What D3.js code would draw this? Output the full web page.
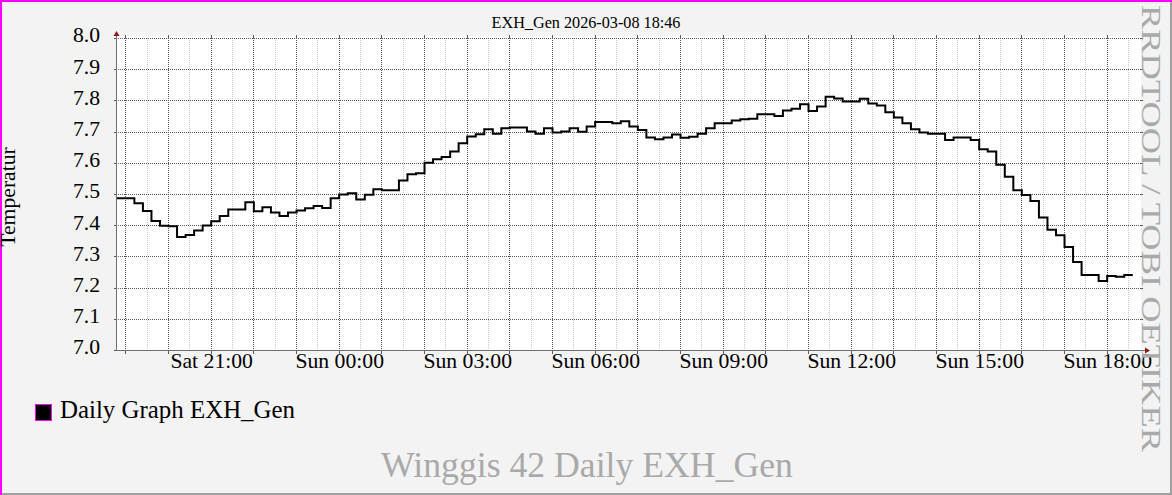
<!DOCTYPE html>
<html>
<head>
<meta charset="utf-8">
<title>EXH_Gen daily</title>
<script src="https://d3js.org/d3.v7.min.js"></script>
<style>
  body { margin: 0; background: #f3f3f3; }
  text { font-family: "Liberation Serif", "DejaVu Serif", serif; }
</style>
</head>
<body>
<script>
// chart texts
var title = "EXH_Gen 2026-03-08 18:46";
var yLabel = "Temperatur";
var legendLabel = "Daily Graph EXH_Gen";
var footer = "Winggis 42 Daily EXH_Gen";
var sideText = "RRDTOOL / TOBI OETIKER";

// time window (UTC so no DST games)
var tStart = Date.UTC(2026, 2, 7, 18, 46);
var tEnd = Date.UTC(2026, 2, 8, 18, 46);
var firstSample = Date.UTC(2026, 2, 7, 18, 36);   // start of first 12 min bucket
var stepMinutes = 12;

var yTicks = [7.0, 7.1, 7.2, 7.3, 7.4, 7.5, 7.6, 7.7, 7.8, 7.9, 8.0];

// one value per 12 minute bucket
var temps = [
  7.488, 7.488, 7.488, 7.472, 7.447, 7.415, 7.400, 7.398, 7.364, 7.370,
  7.385, 7.401, 7.414, 7.431, 7.452, 7.452, 7.475, 7.446, 7.459, 7.442,
  7.431, 7.442, 7.449, 7.456, 7.463, 7.457, 7.488, 7.500, 7.504, 7.484,
  7.499, 7.517, 7.514, 7.514, 7.545, 7.565, 7.568, 7.602, 7.613, 7.620,
  7.638, 7.664, 7.686, 7.693, 7.709, 7.695, 7.712, 7.715, 7.715, 7.702,
  7.695, 7.712, 7.699, 7.702, 7.712, 7.701, 7.718, 7.732, 7.732, 7.728,
  7.735, 7.718, 7.707, 7.683, 7.677, 7.683, 7.692, 7.682, 7.685, 7.695,
  7.712, 7.728, 7.728, 7.737, 7.741, 7.743, 7.757, 7.757, 7.752, 7.769,
  7.775, 7.789, 7.768, 7.782, 7.813, 7.808, 7.798, 7.798, 7.807, 7.792,
  7.785, 7.764, 7.747, 7.728, 7.709, 7.699, 7.695, 7.695, 7.675, 7.683,
  7.683, 7.675, 7.645, 7.638, 7.595, 7.557, 7.514, 7.498, 7.479, 7.426,
  7.387, 7.369, 7.332, 7.284, 7.242, 7.242, 7.223, 7.239, 7.236, 7.242
];

var W = 1172, H = 495;
var svg = d3.select("body").append("svg").attr("width", W).attr("height", H);

var x = d3.scaleUtc().domain([tStart, tEnd]).range([115.9, 1139.9]);
var y = d3.scaleLinear().domain([7.0, 8.0]).range([350.5, 38.5]);

function px(v) { return Math.floor(v) + 0.5; }

// background + shaded frame
svg.append("rect").attr("width", W).attr("height", H).attr("fill", "#f3f3f3");
svg.append("rect").attr("x", 0).attr("y", H - 2).attr("width", W).attr("height", 2).attr("fill", "#a0a0a0");
svg.append("rect").attr("x", W - 2).attr("y", 0).attr("width", 2).attr("height", H).attr("fill", "#a0a0a0");
svg.append("rect").attr("x", 0).attr("y", 0).attr("width", W).attr("height", 2).attr("fill", "#ff00ff");
svg.append("rect").attr("x", 0).attr("y", 0).attr("width", 2).attr("height", H).attr("fill", "#ff00ff");

// canvas
svg.append("rect").attr("x", 116).attr("y", 36).attr("width", 1025).attr("height", 314).attr("fill", "#ffffff");

var grid = svg.append("g");
var minorT = d3.utcMinute.every(30).range(new Date(tStart), new Date(tEnd))
  .filter(function(d) { return d.getUTCMinutes() === 30; });
var majorT = d3.utcHour.every(1).range(new Date(tStart), new Date(tEnd));

grid.selectAll(".minor").data(minorT).enter().append("line")
  .attr("x1", function(d) { return px(x(d)); }).attr("x2", function(d) { return px(x(d)); })
  .attr("y1", 38).attr("y2", 350)
  .attr("stroke", "#c8c8c8").attr("stroke-dasharray", "1,1");

grid.selectAll(".majorx").data(majorT).enter().append("line")
  .attr("x1", function(d) { return px(x(d)); }).attr("x2", function(d) { return px(x(d)); })
  .attr("y1", 38).attr("y2", 350)
  .attr("stroke", "#5a5a5a").attr("stroke-dasharray", "1,1");

grid.selectAll(".majory").data(yTicks).enter().append("line")
  .attr("x1", 116).attr("x2", 1141)
  .attr("y1", function(d) { return px(y(d)); }).attr("y2", function(d) { return px(y(d)); })
  .attr("stroke", "#5a5a5a").attr("stroke-dasharray", "1,1");

// little solid ticks at the ends of the major lines
majorT.forEach(function(d) {
  var xx = px(x(d));
  grid.append("line").attr("x1", xx).attr("x2", xx).attr("y1", 35).attr("y2", 38).attr("stroke", "#5a5a5a");
  grid.append("line").attr("x1", xx).attr("x2", xx).attr("y1", 350).attr("y2", 354).attr("stroke", "#5a5a5a");
});
yTicks.forEach(function(d) {
  var yy = px(y(d));
  grid.append("line").attr("x1", 114).attr("x2", 117).attr("y1", yy).attr("y2", yy).attr("stroke", "#5a5a5a");
  grid.append("line").attr("x1", 1140).attr("x2", 1143).attr("y1", yy).attr("y2", yy).attr("stroke", "#5a5a5a");
});

// data line, step shaped
var pts = temps.map(function(v, i) {
  return { t: firstSample + i * stepMinutes * 60000, v: v };
});
pts.push({ t: firstSample + temps.length * stepMinutes * 60000, v: temps[temps.length - 1] });

svg.append("clipPath").attr("id", "plotclip").append("rect")
  .attr("x", 116).attr("y", 30).attr("width", 1025).attr("height", 330);

var line = d3.line()
  .x(function(d) { return x(d.t); })
  .y(function(d) { return y(d.v); })
  .curve(d3.curveStepAfter);

svg.append("path").datum(pts)
  .attr("clip-path", "url(#plotclip)")
  .attr("d", line)
  .attr("fill", "none")
  .attr("stroke", "#000000")
  .attr("stroke-width", 2);

// axis lines with dark red arrows
svg.append("line").attr("x1", 116.5).attr("x2", 116.5).attr("y1", 351).attr("y2", 34).attr("stroke", "#6e6e6e");
svg.append("line").attr("x1", 116).attr("x2", 1146).attr("y1", 350.5).attr("y2", 350.5).attr("stroke", "#6e6e6e");
svg.append("path").attr("d", "M113.5,36 L119.5,36 L116.5,31 Z").attr("fill", "#8b1a1a");
svg.append("path").attr("d", "M1145,347.5 L1145,353.5 L1150,350.5 Z").attr("fill", "#8b1a1a");

// axes for the labels
var xAxis = d3.axisBottom(x)
  .tickValues(d3.utcHour.every(3).range(new Date(tStart), new Date(tEnd)))
  .tickFormat(d3.utcFormat("%a %H:%M"))
  .tickSize(0).tickPadding(0);
var gx = svg.append("g").attr("transform", "translate(0,350)").call(xAxis);
gx.select(".domain").remove();
gx.selectAll("text").attr("dy", null).attr("y", 18)
  .style("font-family", "'Liberation Serif', serif").style("font-size", "21.7px").attr("fill", "#000");

var yAxis = d3.axisLeft(y).tickValues(yTicks).tickFormat(d3.format(".1f")).tickSize(0).tickPadding(0);
var gy = svg.append("g").attr("transform", "translate(100,0)").call(yAxis);
gy.select(".domain").remove();
gy.selectAll("text").attr("dy", null).attr("x", 0).attr("y", 3.3)
  .style("font-family", "'Liberation Serif', serif").style("font-size", "21.7px").attr("fill", "#000");

// titles
svg.append("text").attr("x", 586).attr("y", 27.5).attr("text-anchor", "middle")
  .style("font-size", "16.2px").text(title);

svg.append("text").attr("transform", "translate(15,197) rotate(-90)")
  .attr("text-anchor", "middle").style("font-size", "21.7px").text(yLabel);

// legend
svg.append("rect").attr("x", 35.5).attr("y", 404.5).attr("width", 16).attr("height", 16)
  .attr("fill", "#000").attr("stroke", "#ff00ff");
svg.append("text").attr("x", 60).attr("y", 417.7).style("font-size", "24.9px").text(legendLabel);

// footer watermark
svg.append("text").attr("x", 587).attr("y", 477).attr("text-anchor", "middle")
  .style("font-size", "35.7px").attr("fill", "#a9a9a9").text(footer);

// rrdtool side text
svg.append("text").attr("transform", "translate(1142,5) rotate(90)")
  .attr("textLength", 447).attr("lengthAdjust", "spacingAndGlyphs")
  .style("font-size", "27.5px").attr("fill", "#a9a9a9").text(sideText);
</script>
</body>
</html>
